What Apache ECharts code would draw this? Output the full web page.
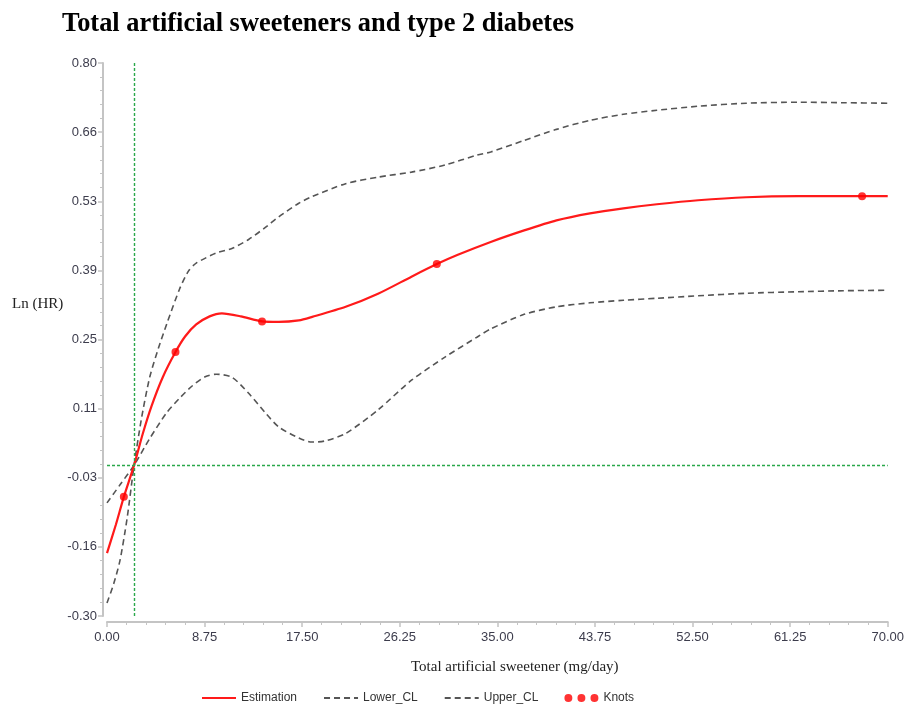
<!DOCTYPE html>
<html>
<head>
<meta charset="utf-8">
<script src="https://cdn.jsdelivr.net/npm/echarts@6/dist/echarts.min.js"></script>
<style>
  html, body { margin: 0; padding: 0; background: #fff; }
  #chart { width: 907px; height: 707px; }
</style>
</head>
<body>
<div id="chart"></div>
<script>
// spline estimate, [sweetener mg/day, ln(HR)]
const estimation = [
  [0, -0.175], [0.8, -0.118], [1.51, -0.063], [2.43, 0.0], [3.2, 0.062], [4, 0.118], [5, 0.175],
  [6.14, 0.225], [7, 0.256], [8, 0.280], [9.2, 0.296], [10.3, 0.302], [12, 0.296], [13.9, 0.286],
  [15.4, 0.285], [17.2, 0.288], [18.4, 0.295], [21.4, 0.315], [24.3, 0.341], [27.3, 0.375],
  [29.57, 0.400], [31.4, 0.418], [34.4, 0.444], [37.4, 0.467], [40.3, 0.487], [43.3, 0.501],
  [46.3, 0.511], [49.3, 0.519], [53, 0.527], [57.3, 0.533], [62, 0.535], [67.7, 0.535], [70, 0.535]
]
// confidence limits
const lowerCL = [
  [0, -0.075], [1.2, -0.038], [2.43, 0.0], [3.8, 0.052], [5.34, 0.104], [6.5, 0.133], [7.66, 0.158],
  [8.8, 0.176], [9.8, 0.181], [11.2, 0.175], [12.7, 0.143], [14.2, 0.104], [15.4, 0.076],
  [17.2, 0.054], [18.35, 0.046], [19.5, 0.048], [21.4, 0.063], [24.3, 0.110], [27.3, 0.169],
  [30.3, 0.215], [33.2, 0.255], [34.4, 0.271], [37.4, 0.300], [40.3, 0.315], [43.3, 0.323],
  [46.3, 0.328], [49.3, 0.332], [53, 0.337], [57.3, 0.342], [62, 0.345], [66, 0.347], [70, 0.348]
]
const upperCL = [
  [0, -0.274], [0.6, -0.236], [1.16, -0.190], [1.8, -0.106], [2.43, 0.0], [3.1, 0.094],
  [3.83, 0.175], [4.6, 0.232], [5.34, 0.280], [6.5, 0.350], [7.3, 0.386], [8, 0.402], [9.8, 0.422],
  [11.2, 0.431], [12.7, 0.449], [14.2, 0.473], [15.4, 0.494], [17.2, 0.521], [18.35, 0.534],
  [21.4, 0.560], [24.3, 0.573], [27.3, 0.583], [30.3, 0.597], [33.2, 0.617], [34.4, 0.623],
  [37.4, 0.646], [40.3, 0.668], [43.3, 0.686], [46.3, 0.698], [49.3, 0.706], [53, 0.714],
  [57.3, 0.720], [62, 0.722], [66, 0.721], [70, 0.720]
]
const knots = [[1.51, -0.063], [6.14, 0.225], [13.9, 0.286], [29.57, 0.400], [67.7, 0.535]]

// reference lines
const refX = 2.43
const refY = 0

// axes
const xMin = 0, xMax = 70, xStep = 8.75
const yMin = -0.30, yMax = 0.80, yStep = 0.1375
const yTickLabels = ['-0.30', '-0.16', '-0.03', '0.11', '0.25', '0.39', '0.53', '0.66', '0.80']

const sans = 'Liberation Sans, Arial, sans-serif'
const serif = 'Liberation Serif, Times New Roman, serif'
const axisGray = '#c4c4c4'
const labelColor = '#3c3c4c'
const knotsIcon = 'path://M0,4a3.5,3.5 0 1,0 7,0a3.5,3.5 0 1,0 -7,0M11.5,4a3.5,3.5 0 1,0 7,0a3.5,3.5 0 1,0 -7,0M23,4a3.5,3.5 0 1,0 7,0a3.5,3.5 0 1,0 -7,0'

const chart = echarts.init(document.getElementById('chart'))

// legend: lines only, no symbol in the middle
const noSymbol = { opacity: 0 }

const option = {
  backgroundColor: '#fff',
  animation: false,
  title: {
    text: 'Total artificial sweeteners and type 2 diabetes',
    left: 57,
    top: 6,
    textStyle: { fontFamily: serif, fontWeight: 'bold', fontSize: 26.4, color: '#000' }
  },
  grid: { left: 107, right: 14, top: 63, bottom: 91 },
  legend: {
    left: 196,
    top: 687,
    itemWidth: 34,
    itemHeight: 8,
    itemGap: 26,
    textStyle: { fontFamily: sans, fontSize: 12, color: '#333' },
    data: [
      { name: 'Estimation', itemStyle: noSymbol },
      { name: 'Lower_CL', itemStyle: noSymbol },
      { name: 'Upper_CL', itemStyle: noSymbol },
      { name: 'Knots', icon: knotsIcon }
    ]
  },
  graphic: [
    {
      type: 'text', left: 12, top: 297,
      style: { text: 'Ln (HR)', font: '15px ' + serif, fill: '#222' }
    },
    {
      type: 'text', left: 411, top: 660,
      style: { text: 'Total artificial sweetener (mg/day)', font: '15px ' + serif, fill: '#222' }
    }
  ],
  xAxis: {
    type: 'value',
    min: xMin, max: xMax, interval: xStep,
    offset: 6,
    axisLine: { show: true, onZero: false, lineStyle: { color: axisGray, width: 2 } },
    axisTick: { show: true, length: 5, lineStyle: { color: axisGray, width: 1.5 } },
    minorTick: { show: true, splitNumber: 5, length: 3, lineStyle: { color: axisGray } },
    splitLine: { show: false },
    axisLabel: {
      margin: 9, fontFamily: sans, fontSize: 13, color: labelColor,
      formatter: v => v.toFixed(2)
    }
  },
  yAxis: {
    type: 'value',
    min: yMin, max: yMax, interval: yStep,
    offset: 4,
    axisLine: { show: true, onZero: false, lineStyle: { color: axisGray, width: 2 } },
    axisTick: { show: true, length: 5, lineStyle: { color: axisGray, width: 1.5 } },
    minorTick: { show: true, splitNumber: 5, length: 3, lineStyle: { color: axisGray } },
    splitLine: { show: false },
    axisLabel: {
      margin: 6, fontFamily: sans, fontSize: 13, color: labelColor,
      formatter: v => yTickLabels[Math.round((v - yMin) / yStep)]
    }
  },
  series: [
    {
      name: 'Lower_CL',
      type: 'line',
      data: lowerCL,
      smooth: 0.25,
      symbol: 'none',
      color: '#555',
      lineStyle: { color: '#555', width: 1.6, type: [6, 4] },
      z: 2
    },
    {
      name: 'Upper_CL',
      type: 'line',
      data: upperCL,
      smooth: 0.25,
      symbol: 'none',
      color: '#555',
      lineStyle: { color: '#555', width: 1.6, type: [6, 4] },
      z: 2
    },
    {
      name: 'Estimation',
      type: 'line',
      data: estimation,
      smooth: 0.25,
      symbol: 'none',
      color: '#ff1a1a',
      lineStyle: { color: '#ff1a1a', width: 2.2 },
      z: 3,
      markLine: {
        silent: true,
        symbol: 'none',
        label: { show: false },
        lineStyle: { color: '#2aa84a', width: 1.4, type: [3, 2] },
        data: [{ xAxis: refX }, { yAxis: refY }]
      }
    },
    {
      name: 'Knots',
      type: 'scatter',
      data: knots,
      symbol: 'circle',
      symbolSize: 8,
      color: '#ff0000',
      itemStyle: { color: '#ff0000' },
      z: 4
    }
  ]
}

chart.setOption(option)
</script>
</body>
</html>
